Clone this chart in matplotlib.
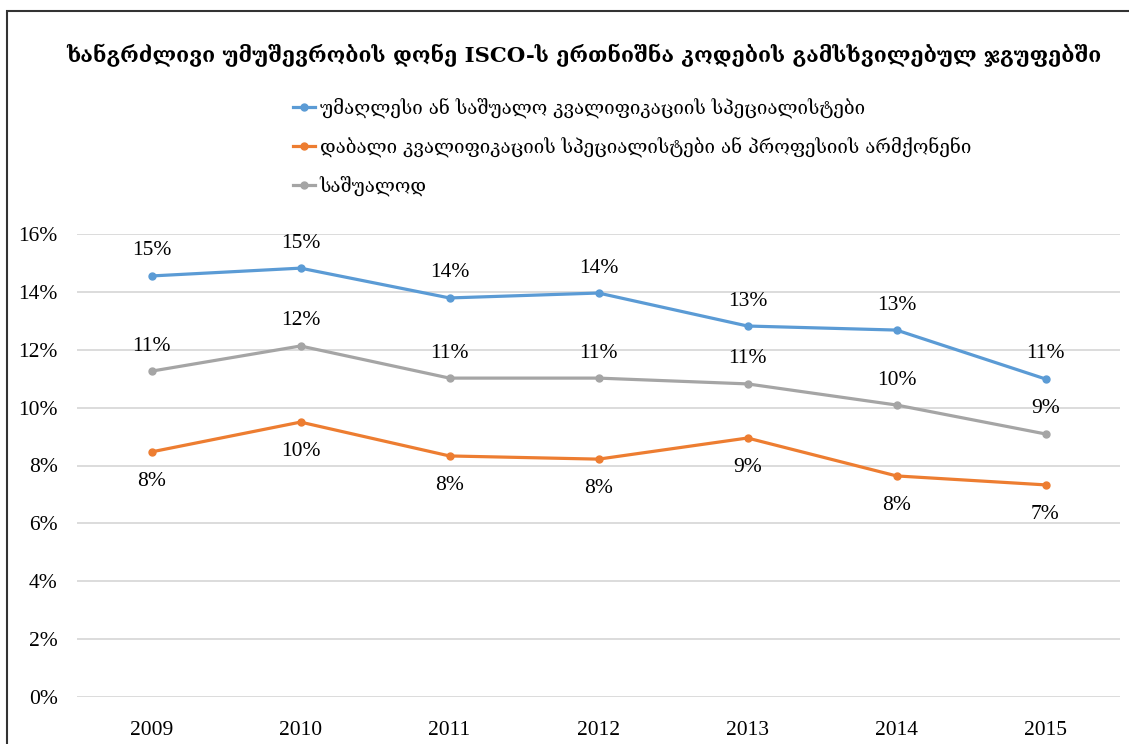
import matplotlib
matplotlib.use("Agg")
import matplotlib.pyplot as plt
from matplotlib.patches import Rectangle

years = ["2009", "2010", "2011", "2012", "2013", "2014", "2015"]
high_skill = [14.55, 14.82, 13.79, 13.96, 12.82, 12.68, 10.99]
low_skill = [8.47, 9.50, 8.33, 8.22, 8.95, 7.64, 7.33]
average = [11.26, 12.13, 11.02, 11.02, 10.82, 10.09, 9.09]

names = [
    "უმაღლესი ან საშუალო კვალიფიკაციის სპეციალისტები",
    "დაბალი კვალიფიკაციის სპეციალისტები ან პროფესიის არმქონენი",
    "საშუალოდ",
]
colors = ["#5B9BD5", "#ED7D31", "#A5A5A5"]
title = "ხანგრძლივი უმუშევრობის დონე ISCO-ს ერთნიშნა კოდების გამსხვილებულ ჯგუფებში"

geo = ["DejaVu Serif", "DejaVu Sans"]
num = ["Liberation Serif", "DejaVu Serif"]

fig = plt.figure(figsize=(11.29, 7.44), dpi=100)
ax = fig.add_axes([77 / 1129, 47 / 744, 1043 / 1129, 463 / 744])

x = range(len(years))
series = [high_skill, low_skill, average]
lines = []
for vals, c, n in zip(series, colors, names):
    ln, = ax.plot(x, vals, color=c, lw=2.3, marker="o", markersize=5, label=n)
    lines.append(ln)

# data labels: orange below, others above
for vals, below in [(high_skill, False), (low_skill, True), (average, False)]:
    for i, v in enumerate(vals):
        ax.annotate(f"{round(v):.0f}%", (i, v), xytext=(0, -21 if below else 18),
                    textcoords="offset points", ha="center", va="center",
                    fontsize=15.5, family=num, color="black")

ax.set_xlim(-0.5, len(years) - 0.5)
ax.set_ylim(0, 16)
ax.set_yticks(range(0, 17, 2))
ax.set_yticklabels([f"{t}%" for t in range(0, 17, 2)], family=num, fontsize=15.5)
ax.set_xticks(list(x))
ax.set_xticklabels(years, family=num, fontsize=15.5)
ax.tick_params(length=0, pad=17)
ax.tick_params(axis="y", pad=14)
ax.grid(axis="y", color="#D9D9D9", lw=1.3)
ax.set_axisbelow(True)
for s in ax.spines.values():
    s.set_visible(False)

fig.text(584 / 1129, 1 - 55 / 744, title, ha="center", va="center",
         fontsize=15.3, fontweight="bold", family=geo)

fig.legend(handles=lines, labels=names, loc="upper left",
           bbox_to_anchor=(284 / 1129, 1 - 88 / 744), frameon=False,
           prop={"family": geo, "size": 13.5}, handlelength=1.15,
           handletextpad=0.25, labelspacing=1.0, borderpad=0)

# outer frame of the chart
fig.patches.append(Rectangle((7 / 1129, -0.1), 1.2, 1 - 11 / 744 + 0.1,
                             transform=fig.transFigure, fill=False,
                             edgecolor="#333333", lw=1.5))

fig.savefig("out.png", dpi=100)
